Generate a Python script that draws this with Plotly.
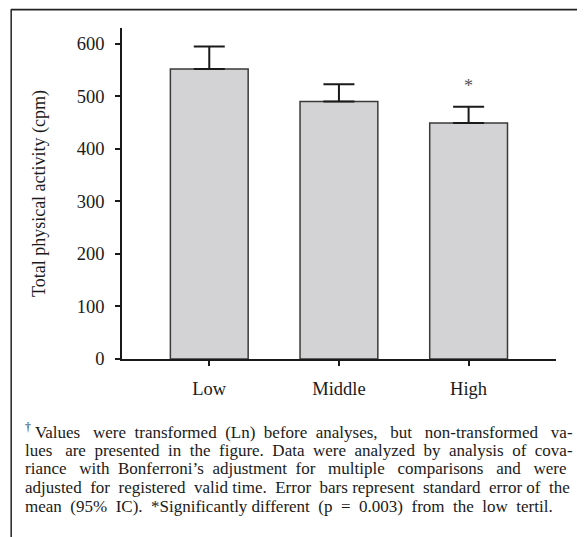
import plotly.graph_objects as go

categories = ["Low", "Middle", "High"]
means = [552, 490, 449]
se_upper = [43, 33, 31]
se_lower = [0, 0, 0]
y_ticks = [0, 100, 200, 300, 400, 500, 600]
y_title = "Total physical activity (cpm)"
sig_category = "High"
sig_y = 519
caption_lines = [
    "Values were transformed (Ln) before analyses, but non-transformed va-",
    "lues are presented in the figure. Data were analyzed by analysis of cova-",
    "riance with Bonferroni’s adjustment for multiple comparisons and were",
    "adjusted for registered valid time. Error bars represent standard error of the",
    "mean (95% IC). *Significantly different (p = 0.003) from the low tertil.",
]
caption_marker = "†"

SERIF = "Liberation Serif, Times New Roman, serif"
INK = "#1a1a1a"
NBSP = "\u00a0"

# extra non-breaking spaces per line, to spread the words like the justified original
caption_extra = [12, 13, 13, 8, 10]

def spread(line, extra):
    words = line.split(" ")
    gaps = len(words) - 1
    out = words[0]
    for i, w in enumerate(words[1:]):
        n = extra // gaps + (1 if (i * 7) % gaps < extra % gaps else 0)
        out += " " + NBSP * n + w
    return out

fig = go.Figure()
fig.add_trace(go.Bar(
    x=categories, y=means, width=0.6,
    marker=dict(color="#d3d3d5", line=dict(color="#3a3a3a", width=1.5)),
    error_y=dict(type="data", symmetric=False, array=se_upper, arrayminus=se_lower,
                 color=INK, thickness=2, width=15.5),
))

fig.add_annotation(x=sig_category, y=sig_y, text="*", showarrow=False,
                   font=dict(family=SERIF, size=18, color="#555555"))

# plot-area margins (figure pixels)
L, R, T, B = 113.7, 37, 19.5, 185.5
W, H = 585, 537
pw, ph = W - L - R, H - T - B
def px_x(px):
    return (px - L) / pw
def px_y(py):
    return (H - B - py) / ph

for i, line in enumerate(caption_lines):
    text = spread(line, caption_extra[i])
    if i == 0:
        text = "<sup>" + caption_marker + "</sup> " + text
    fig.add_annotation(xref="paper", yref="paper", x=px_x(14.5), y=px_y(424 + i * 18.8),
                       xanchor="left", yanchor="middle", align="left", showarrow=False,
                       text=text, font=dict(family=SERIF, size=17, color=INK))

# outer frame (top and left edges)
fig.add_shape(type="line", xref="paper", yref="paper", x0=px_x(2.5), x1=px_x(600),
              y0=px_y(1), y1=px_y(1), line=dict(color="#222222", width=1.8))
fig.add_shape(type="line", xref="paper", yref="paper", x0=px_x(2.8), x1=px_x(2.8),
              y0=px_y(1), y1=px_y(560), line=dict(color="#222222", width=1.5))

fig.update_layout(
    width=W, height=H,
    margin=dict(l=L, r=R, t=T, b=B),
    paper_bgcolor="white", plot_bgcolor="white",
    showlegend=False,
    font=dict(family=SERIF, color=INK),
    xaxis=dict(range=[-0.673, 2.674], showline=True, linecolor=INK, linewidth=1.5,
               ticks="outside", ticklen=5, tickcolor=INK, tickwidth=1.5,
               tickfont=dict(size=18.5, family=SERIF, color=INK),
               showgrid=False, zeroline=False, ticklabelstandoff=7),
    yaxis=dict(range=[0, 630], tickvals=y_ticks, showline=True, linecolor=INK, linewidth=1.5,
               ticks="outside", ticklen=5, tickcolor=INK, tickwidth=1.5,
               tickfont=dict(size=18.5, family=SERIF, color=INK),
               showgrid=False, zeroline=False, ticklabelstandoff=7,
               title=dict(text=y_title, font=dict(size=18, family=SERIF, color=INK), standoff=26)),
)

fig.write_html("out.html")
